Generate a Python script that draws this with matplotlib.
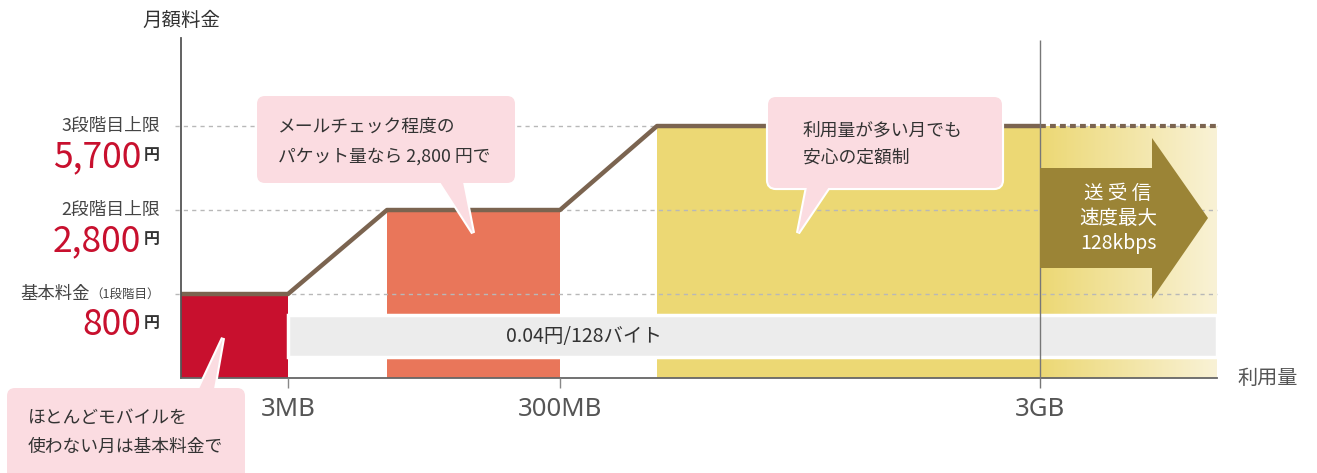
import matplotlib
matplotlib.use("Agg")
import matplotlib.pyplot as plt
import numpy as np
from matplotlib.patches import Rectangle, FancyBboxPatch, Polygon
from matplotlib.colors import LinearSegmentedColormap

plt.rcParams['font.family'] = ['Noto Sans CJK JP', 'DejaVu Sans']

# ---------------- data ----------------
tier_levels = [1, 2, 3]
tier_names = ["基本料金", "2段階目上限", "3段階目上限"]
tier_prices = ["800", "2,800", "5,700"]
tier_start = [0, 206, 476]      # schematic usage units where each plateau begins
tier_end = [107, 379, 859]      # usage breakpoints (3MB, 300MB, 3GB)
usage_labels = ["3MB", "300MB", "3GB"]
usage_max = 1036
y_title = "月額料金"
x_title = "利用量"
band_label = "0.04円/128バイト"
callout_texts = [
    ["メールチェック程度の", "パケット量なら 2,800 円で"],
    ["利用量が多い月でも", "安心の定額制"],
    ["ほとんどモバイルを", "使わない月は基本料金で"],
]
arrow_text = ["送 受 信", "速度最大", "128kbps"]

# ---------------- styles ----------------
W, H = 1317, 473
bar_colors = ["#c8102e", "#e9765a", "#ecd874"]
line_color = "#7b6450"
red = "#c8102e"
txt = "#444444"
pink = "#fbdce1"

fig = plt.figure(figsize=(W / 100, H / 100), dpi=100)
ax = fig.add_axes([181 / W, 95 / H, 1036 / W, 340 / H])
ax.axis("off")

# bars
for i, lvl in enumerate(tier_levels):
    ax.add_patch(Rectangle((tier_start[i], 0), tier_end[i] - tier_start[i], lvl,
                           fc=bar_colors[i], ec="none", zorder=2))
# gradient continuation after 3GB
cmap = LinearSegmentedColormap.from_list("g", ["#ecd874", "#f9f2d6"])
grad = np.linspace(0, 1, 256).reshape(1, -1)
ax.imshow(grad, cmap=cmap, aspect="auto",
          extent=[tier_end[2], usage_max, 0, tier_levels[2]], zorder=2)
ax.set_xlim(0, usage_max)
ax.set_ylim(0, 4.048)

# grid lines at tiers
ax.hlines(tier_levels, -6, usage_max, colors="#b8b8b8", linestyles=(0, (3, 3)),
          lw=1, zorder=2.5, clip_on=False)

# per-byte band
ax.add_patch(Rectangle((tier_end[0], 0.25), usage_max - tier_end[0], 0.5,
                       fc="#ececec", ec="white", lw=2.5, zorder=3))
ax.text(403, 0.5, band_label, ha="center", va="center", fontsize=14,
        color="#333333", zorder=6)

# price line
px, py = [], []
for i, lvl in enumerate(tier_levels):
    px += [tier_start[i], tier_end[i]]
    py += [lvl, lvl]
ax.plot(px, py, color=line_color, lw=3.2, solid_capstyle="butt", zorder=4)
ax.plot([tier_end[2], usage_max], [tier_levels[2]] * 2, color=line_color, lw=3,
        linestyle=(0, (1.4, 1.0)), dash_capstyle="butt", zorder=4)

# axes lines
ax.plot([0, 0], [0, 4.048], color="#555555", lw=1.3, zorder=5, clip_on=False)
ax.plot([0, usage_max], [0, 0], color="#666666", lw=1.3, zorder=5, clip_on=False)
ax.vlines(tier_end[:2], -0.12, 0, colors="#888888", lw=1, zorder=5, clip_on=False)
ax.vlines(tier_end[2], -0.12, 4.02, colors="#777777", lw=1, zorder=5, clip_on=False)

for x, lab in zip(tier_end, usage_labels):
    ax.text(x, -0.38, lab, ha="center", va="center", fontsize=18.5,
            family=["Noto Sans", "DejaVu Sans"], color="#555555", clip_on=False)

ax.text(0, 4.26, y_title, ha="center", va="center", fontsize=14, color="#333333",
        clip_on=False)
ax.text(1056, 0, x_title, ha="left", va="center", fontsize=14.5, color="#555555",
        clip_on=False)

# tier labels on the left
for i, lvl in enumerate(tier_levels):
    if i == 0:
        ax.text(-21, lvl, "（1段階目）", ha="right", va="center", fontsize=9,
                color=txt, clip_on=False)
        ax.text(-91, lvl, tier_names[i], ha="right", va="center", fontsize=12.5,
                color=txt, clip_on=False)
    else:
        ax.text(-21, lvl, tier_names[i], ha="right", va="center", fontsize=12.8,
                color=txt, clip_on=False)
    ax.text(-40, lvl - 0.37, tier_prices[i], ha="right", va="center", fontsize=25.5,
            color=red, clip_on=False)
    ax.text(-21, lvl - 0.35, "円", ha="right", va="center", fontsize=11.5,
            color="#333333", fontweight="bold", clip_on=False)

# ---------------- overlay for callouts / arrow ----------------
ov = fig.add_axes([0, 0, 1, 1], zorder=10)
ov.set_xlim(0, W)
ov.set_ylim(H, 0)
ov.axis("off")
ov.patch.set_alpha(0)


def callout(x0, y0, x1, y1, tri, lines, tx, ty, dy):
    for ec, lw, z in [("white", 3, 1), ("none", 0, 2)]:
        ov.add_patch(FancyBboxPatch((x0, y0), x1 - x0, y1 - y0,
                                    boxstyle="round,pad=0,rounding_size=8",
                                    fc=pink, ec=ec, lw=lw, zorder=z))
        ov.add_patch(Polygon(tri, closed=True, fc=pink, ec=ec, lw=lw, zorder=z))
    for k, s in enumerate(lines):
        ov.text(tx, ty + k * dy, s, ha="left", va="center", fontsize=12.8,
                color="#333333", zorder=3)


callout(257, 96, 515, 183, [(440, 182), (463, 182), (473, 233)],
        callout_texts[0], 278, 127, 30)
callout(768, 97, 1002, 188, [(807, 187), (829, 187), (798, 233)],
        callout_texts[1], 803, 130, 28)
callout(7, 388, 245, 500, [(199, 389), (214, 389), (223, 338)],
        callout_texts[2], 28, 418, 29)

# speed arrow
ov.add_patch(Polygon([(1040, 168), (1152, 168), (1152, 138), (1208, 218),
                      (1152, 299), (1152, 268), (1040, 268)], closed=True,
                     fc="#9b8436", ec="none", zorder=2))
for k, s in enumerate(arrow_text):
    ov.text(1118, 193 + 25 * k, s, ha="center", va="center", fontsize=14,
            color="white", zorder=3)

fig.savefig("out.png", dpi=100)
